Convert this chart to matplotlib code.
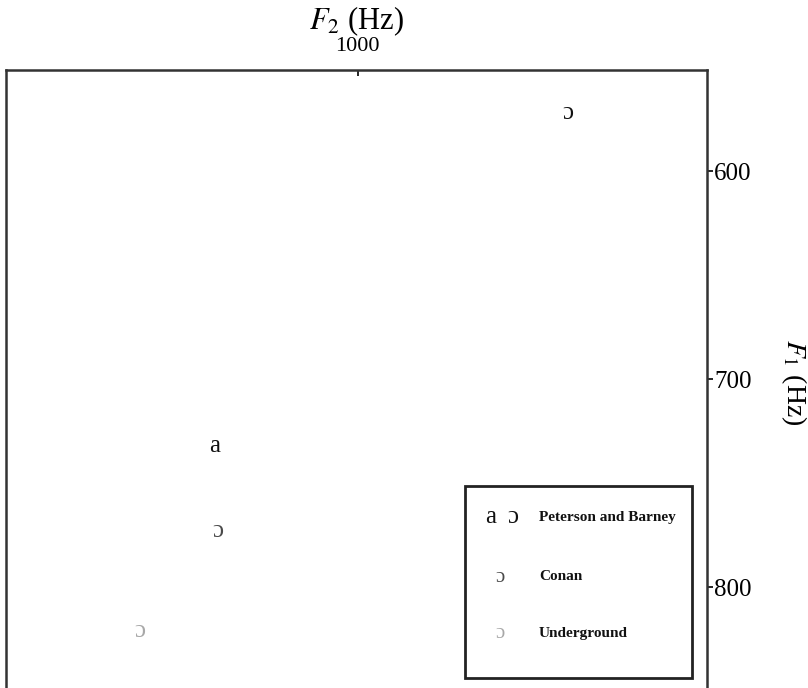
import matplotlib
matplotlib.use("Agg")
import matplotlib.pyplot as plt
from matplotlib.patches import Rectangle

plt.rcParams['font.family'] = ['Liberation Serif', 'DejaVu Serif']
plt.rcParams['mathtext.fontset'] = 'stix'

# Vowel tokens plotted as IPA glyphs in the F2/F1 plane
vowels = ['ɔ', 'a', 'ɔ', 'ɔ']
sources = ['Peterson and Barney', 'Peterson and Barney', 'Conan', 'Underground']
f1_hz = [572, 732, 773, 821]
f2_hz = [840, 1109, 1107, 1166]

source_names = ['Peterson and Barney', 'Conan', 'Underground']
source_symbols = [['a', 'ɔ'], ['ɔ'], ['ɔ']]
source_colors = ['#111111', '#4a4a4a', '#a8a8a8']
color_of = dict(zip(source_names, source_colors))

x_ticks = [1000]
y_ticks = [600, 700, 800]

W, H = 808, 688
fig = plt.figure(figsize=(W / 100, H / 100), dpi=100)
ax = fig.add_axes([6 / W, 1 - 695 / H, 701 / W, 625 / H])

ax.set_xlim(1268, 734)
ax.set_ylim(851.9, 551.4)

for v, s, y, x in zip(vowels, sources, f1_hz, f2_hz):
    ax.text(x, y, v, color=color_of[s], fontsize=18, ha='center', va='center')

# axes styling: labels on top and right
ax.xaxis.tick_top()
ax.xaxis.set_label_position('top')
ax.yaxis.tick_right()
ax.yaxis.set_label_position('right')
ax.set_xticks(x_ticks)
ax.set_xticklabels([str(t) for t in x_ticks])
ax.set_yticks(y_ticks)
ax.set_yticklabels([str(t) for t in y_ticks])
ax.tick_params(axis='x', direction='in', length=4, width=1.2, pad=10, labelsize=16)
ax.tick_params(axis='y', direction='out', length=4, width=1.2, pad=1, labelsize=18)
for side in ['top', 'left', 'right']:
    ax.spines[side].set_color('#333333')
    ax.spines[side].set_linewidth(1.8)
ax.spines['bottom'].set_visible(False)

ax.set_xlabel(r'$F_{\mathit{2}}$ (Hz)', fontsize=22, labelpad=6)
ax.set_ylabel(r'$F_{\mathit{1}}$ (Hz)', fontsize=20, rotation=270, labelpad=41)

# legend box drawn in axes coordinates
bx0, by0, bx1, by1 = 0.6548, 0.0272, 0.9786, 0.3344
ax.add_patch(Rectangle((bx0, by0), bx1 - bx0, by1 - by0, transform=ax.transAxes,
                       fill=False, edgecolor='#222222', linewidth=2, zorder=5))
row_y = [0.2848, 0.1888, 0.0992]
sym_x = [[0.6919, 0.7233], [0.7047], [0.7047]]
sym_size = [18, 15, 15]
for name, syms, xs, fs, col, yy in zip(source_names, source_symbols, sym_x,
                                       sym_size, source_colors, row_y):
    for sym, sx in zip(syms, xs):
        ax.text(sx, yy, sym, color=col, fontsize=fs, ha='center', va='center',
                transform=ax.transAxes)
    ax.text(0.7603, yy, name, color='#111111', fontsize=11, fontweight='bold',
            ha='left', va='center', transform=ax.transAxes)

fig.savefig('out.png', dpi=100)
